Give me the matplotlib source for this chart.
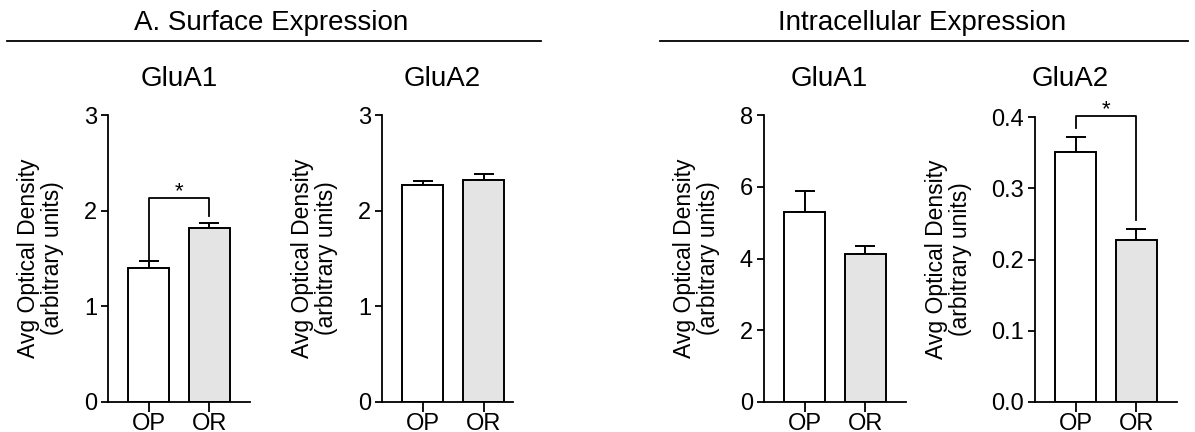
import matplotlib
matplotlib.use("Agg")
import matplotlib.pyplot as plt

plt.rcParams["font.family"] = ["Liberation Sans", "DejaVu Sans"]

groups = ["OP", "OR"]
bar_colors = ["white", "#e4e4e4"]

# per-panel values
panel_titles = ["GluA1", "GluA2", "GluA1", "GluA2"]
means = [[1.40, 1.82], [2.27, 2.32], [5.30, 4.12], [0.351, 0.227]]
errors = [[0.07, 0.05], [0.04, 0.06], [0.58, 0.23], [0.021, 0.016]]
y_max = [3, 3, 8, 0.4]
y_ticks = [[0, 1, 2, 3], [0, 1, 2, 3], [0, 2, 4, 6, 8], [0.0, 0.1, 0.2, 0.3, 0.4]]
y_ticklabels = [["0", "1", "2", "3"], ["0", "1", "2", "3"],
                ["0", "2", "4", "6", "8"], ["0.0", "0.1", "0.2", "0.3", "0.4"]]
# significance brackets: (top, left leg end, right leg end) or None
brackets = [(2.13, 1.47, 1.94), None, None, (0.401, 0.385, 0.256)]

section_titles = ["A. Surface Expression", "Intracellular Expression"]
ylabel = "Avg Optical Density\n(arbitrary units)"

W, H = 1195, 432
fig = plt.figure(figsize=(W / 100, H / 100), dpi=100)

# axes boxes in pixels: left, right, top, bottom; plus x-limit right end
boxes = [(108, 250, 115, 402), (382, 513, 115, 402),
         (764, 906, 115, 402), (1035, 1177, 117, 402)]
x_right = [1.67, 1.48, 1.67, 1.67]
title_x = [179, 442, 829, 1070]

for i, (l, r, t, b) in enumerate(boxes):
    ax = fig.add_axes([l / W, 1 - b / H, (r - l) / W, (b - t) / H])
    x = [0, 1]
    ax.bar(x, means[i], width=0.67, color=bar_colors, edgecolor="black",
           linewidth=1.4, zorder=2)
    ax.errorbar(x, means[i], yerr=[[0, 0], errors[i]], fmt="none",
                ecolor="black", elinewidth=1.4, capsize=7, capthick=1.4, zorder=1)
    ax.set_xlim(-0.67, x_right[i])
    ax.set_ylim(0, y_max[i])
    ax.set_yticks(y_ticks[i])
    ax.set_yticklabels(y_ticklabels[i])
    ax.set_xticks(x)
    ax.set_xticklabels(groups)
    for s in ["top", "right"]:
        ax.spines[s].set_visible(False)
    for s in ["left", "bottom"]:
        ax.spines[s].set_linewidth(1.3)
    ax.tick_params(axis="y", direction="out", length=5, width=1.3,
                   labelsize=17, pad=3)
    ax.tick_params(axis="x", direction="out", length=7, width=1.3,
                   labelsize=17, pad=1)
    ax.set_ylabel(ylabel, fontsize=16.5, linespacing=1.05, labelpad=14)
    ax.patch.set_alpha(0)

    if brackets[i] is not None:
        top, yl, yr = brackets[i]
        ax.plot([0, 0, 1, 1], [yl, top, top, yr], color="black", lw=1.3,
                clip_on=False)
        ax.annotate("*", (0.5, top), xytext=(0, -2.5), textcoords="offset points",
                    ha="center", va="bottom", fontsize=16, annotation_clip=False)

    fig.text(title_x[i] / W, 1 - 79 / H, panel_titles[i], ha="center",
             va="center", fontsize=20)

# section headers with underline
fig.text(271 / W, 1 - 23 / H, section_titles[0], ha="center", va="center", fontsize=20)
fig.text(922 / W, 1 - 23 / H, section_titles[1], ha="center", va="center", fontsize=20)
fig.add_artist(plt.Line2D([7 / W, 541 / W], [1 - 41 / H] * 2, color="black", lw=1.3))
fig.add_artist(plt.Line2D([660 / W, 1188 / W], [1 - 41 / H] * 2, color="black", lw=1.3))

fig.savefig("out.png", dpi=100, facecolor="white")
